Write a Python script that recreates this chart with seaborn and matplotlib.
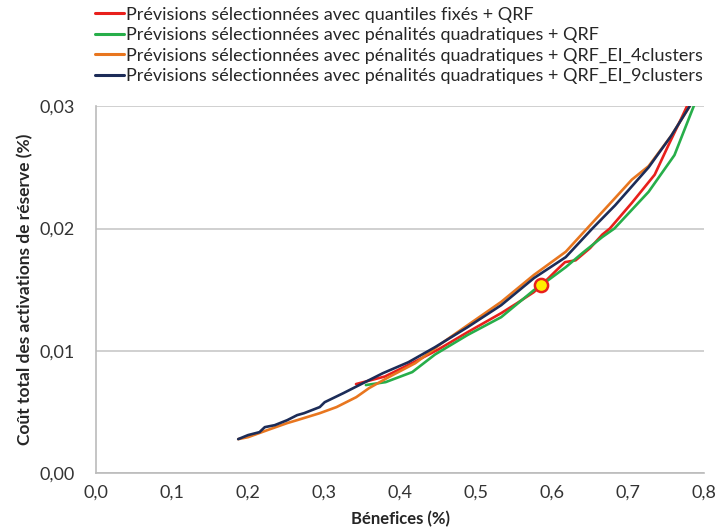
import pandas as pd
import seaborn as sns
import matplotlib.pyplot as plt
from matplotlib.ticker import FuncFormatter

# values
navy_x = [0.187, 0.200, 0.215, 0.222, 0.235, 0.2515, 0.2645, 0.2736, 0.2943, 0.3008, 0.3254, 0.3514, 0.3773,
          0.411, 0.446, 0.489, 0.533, 0.576, 0.618, 0.653, 0.683, 0.727, 0.757, 0.781]
navy_y = [0.00278, 0.00311, 0.00335, 0.00376, 0.00392, 0.00433, 0.00474, 0.0049, 0.0054, 0.0058, 0.00654, 0.00736, 0.00817,
          0.00907, 0.0103, 0.01194, 0.01373, 0.01594, 0.01766, 0.0200, 0.0219, 0.0250, 0.0276, 0.0300]

orange_x = [0.187, 0.200, 0.2256, 0.2515, 0.2645, 0.2943, 0.3164, 0.3423, 0.3592, 0.3851, 0.420, 0.455,
            0.489, 0.533, 0.576, 0.618, 0.646, 0.683, 0.705, 0.727, 0.757, 0.781]
orange_y = [0.00278, 0.00294, 0.00352, 0.00409, 0.00433, 0.0049, 0.0054, 0.00621, 0.00695, 0.00785, 0.00899, 0.01063,
            0.0121, 0.0140, 0.0162, 0.0181, 0.0200, 0.0225, 0.0240, 0.0251, 0.0276, 0.0300]

red_x = [0.342, 0.380, 0.416, 0.45, 0.489, 0.533, 0.554, 0.576, 0.586, 0.606, 0.617, 0.631, 0.650, 0.666, 0.676,
         0.705, 0.735, 0.753, 0.770, 0.779]
red_y = [0.00728, 0.0079, 0.0090, 0.0101, 0.01153, 0.01308, 0.0139, 0.0148, 0.01537, 0.0166, 0.01725, 0.0174, 0.0184,
         0.0195, 0.0200, 0.0221, 0.0244, 0.0268, 0.0290, 0.0302]

green_x = [0.355, 0.381, 0.416, 0.446, 0.489, 0.533, 0.576, 0.586, 0.618, 0.640, 0.666, 0.682, 0.727, 0.761, 0.787]
green_y = [0.0072, 0.00744, 0.00826, 0.0097, 0.0113, 0.01275, 0.01496, 0.01537, 0.01684, 0.0180, 0.0193, 0.0200,
           0.0230, 0.0260, 0.0301]

point_x = [0.586]
point_y = [0.01537]

labels = [
    "Prévisions sélectionnées avec quantiles fixés + QRF",
    "Prévisions sélectionnées avec pénalités quadratiques + QRF",
    "Prévisions sélectionnées avec pénalités quadratiques + QRF_EI_4clusters",
    "Prévisions sélectionnées avec pénalités quadratiques + QRF_EI_9clusters",
]
colors = ["#e8201c", "#27ae4a", "#e8761f", "#1c2c58"]

series = [(red_x, red_y), (green_x, green_y), (orange_x, orange_y), (navy_x, navy_y)]
frames = []
for lab, (xs, ys) in zip(labels, series):
    frames.append(pd.DataFrame({"x": xs, "y": ys, "serie": lab}))
df = pd.concat(frames, ignore_index=True)

sns.set_style("white")
plt.rcParams['font.family'] = ['Lato', 'DejaVu Sans']

fig = plt.figure(figsize=(7.17, 5.31), dpi=100)
ax = fig.add_axes([0.134, 0.109, 0.848, 0.691])

sns.lineplot(data=df, x="x", y="y", hue="serie", palette=dict(zip(labels, colors)),
             sort=False, estimator=None, linewidth=1.9, ax=ax, legend=False)
sns.scatterplot(x=point_x, y=point_y, color="#ffee00", edgecolor="#e8201c",
                linewidth=1.8, s=90, zorder=5, ax=ax)

ax.set_xlim(0, 0.8)
ax.set_ylim(0, 0.03)
ax.set_xticks([0.0, 0.1, 0.2, 0.3, 0.4, 0.5, 0.6, 0.7, 0.8])
ax.set_yticks([0.0, 0.01, 0.02, 0.03])
ax.xaxis.set_major_formatter(FuncFormatter(lambda v, p: f"{v:.1f}".replace(".", ",")))
ax.yaxis.set_major_formatter(FuncFormatter(lambda v, p: f"{v:.2f}".replace(".", ",")))
ax.tick_params(axis="both", labelsize=13, colors="#333333", length=5, width=1, direction="out")
ax.tick_params(axis="both", color="#bbbbbb")
ax.tick_params(axis="y", pad=10)
ax.grid(axis="y", color="#c8c8c8", linewidth=1.2)
ax.grid(axis="x", visible=False)
for side in ["top", "right"]:
    ax.spines[side].set_visible(False)
for side in ["left", "bottom"]:
    ax.spines[side].set_color("#bbbbbb")
    ax.spines[side].set_linewidth(1.2)

ax.set_xlabel("Bénefices (%)", fontsize=12, fontweight="bold", labelpad=7)
ax.set_ylabel("Coût total des activations de réserve (%)", fontsize=12.5, fontweight="bold", labelpad=5)

handles = [plt.Line2D([], [], color=c, linewidth=2.2) for c in colors]
fig.legend(handles, labels, loc="upper left", bbox_to_anchor=(0.118, 1.008), frameon=False,
           fontsize=13, handlelength=1.6, handletextpad=0.1, labelspacing=0.25,
           borderaxespad=0.2)

plt.savefig("out.png", dpi=100)
